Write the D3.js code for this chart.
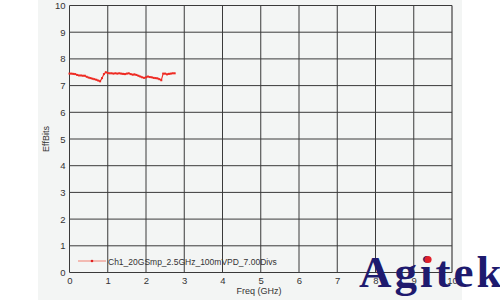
<!DOCTYPE html>
<html>
<head>
<meta charset="utf-8">
<script src="https://cdn.jsdelivr.net/npm/d3@7"></script>
<style>
  body { margin: 0; background: #fff; }
  svg { display: block; font-family: "Liberation Sans", Arial, sans-serif; }
</style>
</head>
<body>
<div id="chart"></div>
<script>
// frequency points (GHz) and effective bits
var freq = [0.00,0.05,0.10,0.15,0.20,0.25,0.30,0.35,0.40,0.45,0.50,0.55,0.60,0.65,0.70,0.75,0.80,0.85,0.90,0.95,
            1.00,1.05,1.10,1.15,1.20,1.25,1.30,1.35,1.40,1.45,1.50,1.55,1.60,1.65,1.70,1.75,1.80,1.85,1.90,1.95,
            2.00,2.05,2.10,2.15,2.20,2.25,2.30,2.35,2.40,2.45,2.50,2.55,2.60,2.65,2.70,2.75];
var effBits = [7.45,7.45,7.44,7.43,7.40,7.38,7.38,7.37,7.37,7.33,7.30,7.28,7.26,7.24,7.22,7.19,7.16,7.28,7.43,7.50,
               7.47,7.46,7.46,7.45,7.46,7.45,7.46,7.45,7.44,7.43,7.45,7.46,7.43,7.41,7.42,7.40,7.37,7.34,7.31,7.29,
               7.31,7.34,7.32,7.31,7.29,7.28,7.27,7.24,7.20,7.45,7.45,7.42,7.44,7.45,7.46,7.46];
var xTicks = [0,1,2,3,4,5,6,7,8,9,10];
var yTicks = [0,1,2,3,4,5,6,7,8,9,10];
var seriesName = "Ch1_20GSmp_2.5GHz_100mVPD_7.00Divs";

var width = 500, height = 300;
var margin = {top: 5.5, right: 48, bottom: 27.5, left: 69.5};

var svg = d3.select("#chart").append("svg")
    .attr("width", width)
    .attr("height", height);

// grey panel behind the chart
svg.append("rect")
    .attr("x", 38).attr("y", 0)
    .attr("width", 424).attr("height", height)
    .attr("fill", "#f3f5f4");

var x = d3.scaleLinear().domain([0, 10]).range([margin.left, width - margin.right]);
var y = d3.scaleLinear().domain([0, 10]).range([height - margin.bottom, margin.top]);

// grid
svg.append("g").selectAll("line")
    .data(xTicks)
  .enter().append("line")
    .attr("x1", function(d) { return x(d); })
    .attr("x2", function(d) { return x(d); })
    .attr("y1", y(0)).attr("y2", y(10))
    .attr("stroke", function(d) { return d == 10 ? "#888" : "#3a3a3a"; })
    .attr("stroke-width", function(d) { return d == 10 ? 2 : 1; });

svg.append("g").selectAll("line")
    .data(yTicks)
  .enter().append("line")
    .attr("x1", x(0)).attr("x2", x(10))
    .attr("y1", function(d) { return y(d); })
    .attr("y2", function(d) { return y(d); })
    .attr("stroke", "#3a3a3a")
    .attr("stroke-width", 1);

// axes labels
var xAxis = d3.axisBottom(x).tickValues(xTicks).tickSize(0).tickPadding(5).tickFormat(d3.format("d"));
var gx = svg.append("g").attr("transform", "translate(0," + y(0) + ")").call(xAxis);
gx.select(".domain").remove();
gx.selectAll("text").attr("font-size", "9.5px").attr("fill", "#333");

var yAxis = d3.axisLeft(y).tickValues(yTicks).tickSize(0).tickPadding(4).tickFormat(d3.format("d"));
var gy = svg.append("g").attr("transform", "translate(" + x(0) + ",0)").call(yAxis);
gy.select(".domain").remove();
gy.selectAll("text").attr("font-size", "9.5px").attr("fill", "#333");

svg.append("text")
    .attr("x", 259).attr("y", 294)
    .attr("text-anchor", "middle")
    .attr("font-size", "9px")
    .attr("fill", "#333")
    .text("Freq (GHz)");

svg.append("text")
    .attr("transform", "translate(49," + y(5) + ") rotate(-90)")
    .attr("text-anchor", "middle")
    .attr("font-size", "9px")
    .attr("fill", "#333")
    .text("EffBits");

// data line
var data = freq.map(function(f, i) { return {f: f, v: effBits[i]}; });
var line = d3.line()
    .x(function(d) { return x(d.f); })
    .y(function(d) { return y(d.v); });

svg.append("path")
    .datum(data)
    .attr("fill", "none")
    .attr("stroke", "#ee2a22")
    .attr("stroke-width", 1.1)
    .attr("d", line);

svg.append("g").selectAll("rect")
    .data(data)
  .enter().append("rect")
    .attr("x", function(d) { return x(d.f) - 1; })
    .attr("y", function(d) { return y(d.v) - 1; })
    .attr("width", 2).attr("height", 2)
    .attr("fill", "#ee2a22");

// legend
svg.append("line")
    .attr("x1", 78).attr("x2", 106)
    .attr("y1", 261).attr("y2", 261)
    .attr("stroke", "#f2a69c").attr("stroke-width", 1.5);
svg.append("circle")
    .attr("cx", 92).attr("cy", 261).attr("r", 1.3)
    .attr("fill", "#e02020");
svg.append("text")
    .attr("x", 108).attr("y", 264.5)
    .attr("font-size", "8.5px")
    .attr("fill", "#333")
    .text(seriesName);

// watermark
svg.append("text")
    .attr("x", 359).attr("y", 287)
    .attr("font-family", "'Liberation Serif', 'DejaVu Serif', serif")
    .attr("font-weight", "bold")
    .attr("font-size", "45px")
    .attr("letter-spacing", "3px")
    .attr("fill", "#1e1a6e")
    .text("Agitek");
svg.append("circle")
    .attr("cx", 428).attr("cy", 259.5).attr("r", 3.6)
    .attr("fill", "#e0202a");
</script>
</body>
</html>
